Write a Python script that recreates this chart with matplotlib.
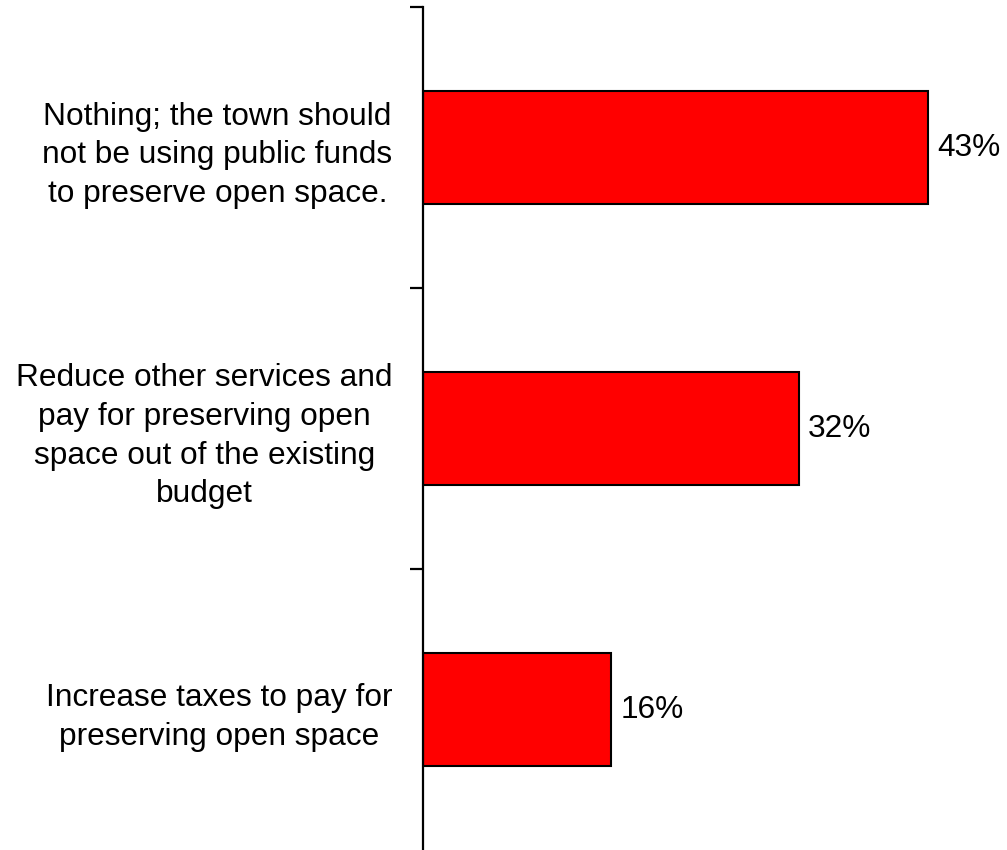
import matplotlib
matplotlib.use("Agg")
import matplotlib.pyplot as plt

categories = [
    "Nothing; the town should\nnot be using public funds\nto preserve open space.",
    "Reduce other services and\npay for preserving open\nspace out of the existing\nbudget",
    "Increase taxes to pay for\npreserving open space",
]
values = [43, 32, 16]

plt.rcParams['font.family'] = ['Liberation Sans', 'DejaVu Sans']

fig = plt.figure(figsize=(10.07, 8.5), dpi=100)
ax = fig.add_axes([423 / 1007, 0.0, 575 / 1007, 1 - 7 / 850])

pos = list(range(len(categories)))
ax.barh(pos, values, height=0.4, color='#ff0000', edgecolor='black', linewidth=1.5)

ax.set_xlim(0, 49)
ax.set_ylim(len(categories) - 0.5, -0.5)

for s in ['top', 'right', 'bottom']:
    ax.spines[s].set_visible(False)
ax.spines['left'].set_linewidth(1.6)
ax.set_xticks([])

ax.set_yticks([p - 0.5 for p in pos])
ax.set_yticklabels([])
ax.tick_params(axis='y', which='major', direction='out', length=9.5, width=1.6)

ax.set_yticks(pos, minor=True)
ax.set_yticklabels(categories, minor=True, fontsize=22.8, linespacing=1.37)
ax.tick_params(axis='y', which='minor', length=0, pad=22)
for lab in ax.get_yticklabels(minor=True):
    lab.set_multialignment('center')

for p, v in zip(pos, values):
    ax.annotate(f"{v}%", xy=(v, p), xytext=(7, 0), textcoords='offset points',
                va='center', ha='left', fontsize=22.8)

fig.savefig('out.png', dpi=100)
